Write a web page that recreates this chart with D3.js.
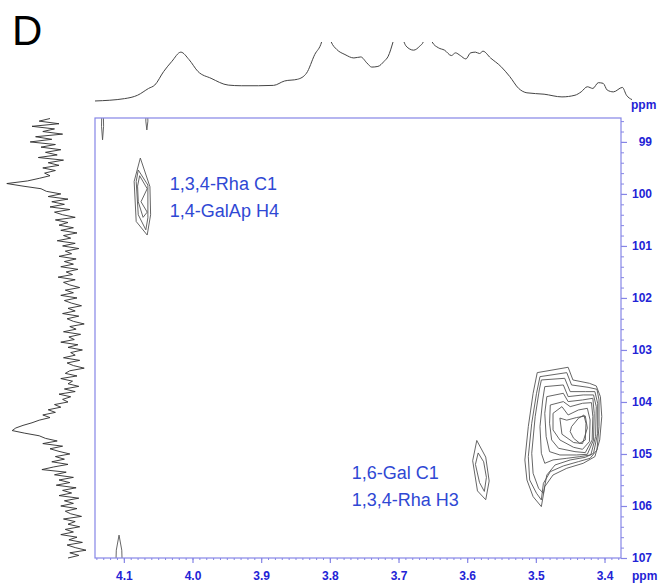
<!DOCTYPE html>
<html>
<head>
<meta charset="utf-8">
<script src="https://cdn.jsdelivr.net/npm/d3@7"></script>
<style>
  body { margin: 0; background: #fff; }
  svg { display: block; font-family: "Liberation Sans", Arial, sans-serif; }
</style>
</head>
<body>
<script>
const width = 666;
const height = 584;

// axis ticks (ppm)
const xTicks = [4.1, 4.0, 3.9, 3.8, 3.7, 3.6, 3.5, 3.4];
const yTicks = [99, 100, 101, 102, 103, 104, 105, 106, 107];

// peak labels
const labels = [
  { h: 4.033, c: 99.93, lines: ["1,3,4-Rha C1", "1,4-GalAp H4"] },
  { h: 3.768, c: 105.48, lines: ["1,6-Gal C1", "1,3,4-Rha H3"] }
];

// contour rings [1H ppm, 13C ppm]
const rhaC1Rings = [
  [[4.076,99.31],[4.062,99.86],[4.061,100.40],[4.066,100.79],[4.082,100.53],[4.085,99.76]],
  [[4.079,99.54],[4.065,99.83],[4.065,100.46],[4.068,100.69],[4.079,100.40],[4.082,99.76]],
  [[4.077,99.65],[4.066,99.90],[4.075,100.15],[4.066,100.35],[4.072,100.45],[4.079,100.15],[4.080,99.85]]
];

const galC1Rings = [
  [[3.586,104.74],[3.592,105.13],[3.585,105.71],[3.573,105.88],[3.568,105.52],[3.573,105.06]],
  [[3.584,104.98],[3.588,105.20],[3.582,105.55],[3.575,105.72],[3.572,105.45],[3.576,105.15]]
];

const bigRings = [
  [[3.498,103.436],[3.453,103.333],[3.446,103.577],[3.422,103.641],[3.412,103.692],[3.406,103.897],[3.404,104.282],[3.407,104.730],[3.414,105.051],[3.431,105.179],[3.455,105.275],[3.475,105.404],[3.487,105.628],[3.492,106.012],[3.504,105.820],[3.513,105.500],[3.516,105.115],[3.511,104.474],[3.504,103.833]],
  [[3.494,103.513],[3.455,103.436],[3.448,103.673],[3.424,103.718],[3.411,103.756],[3.408,103.961],[3.408,104.474],[3.411,104.923],[3.421,105.083],[3.438,105.147],[3.460,105.230],[3.479,105.340],[3.489,105.564],[3.492,105.884],[3.499,105.756],[3.509,105.500],[3.511,105.051],[3.506,104.410],[3.499,103.833]],
  [[3.492,103.577],[3.458,103.545],[3.450,103.801],[3.428,103.801],[3.414,103.801],[3.410,104.025],[3.410,104.602],[3.416,104.987],[3.428,105.064],[3.450,105.115],[3.472,105.211],[3.484,105.404],[3.489,105.756],[3.496,105.660],[3.504,105.372],[3.506,104.987],[3.501,104.282],[3.495,103.769]],
  [[3.487,103.705],[3.460,103.673],[3.453,103.897],[3.431,103.865],[3.416,103.865],[3.412,104.090],[3.413,104.666],[3.420,105.019],[3.436,105.051],[3.455,105.083],[3.475,105.115],[3.487,105.179],[3.492,104.987],[3.494,104.474],[3.490,103.961]],
  [[3.484,103.897],[3.460,103.833],[3.453,103.993],[3.432,103.961],[3.417,103.929],[3.415,104.218],[3.416,104.730],[3.425,105.006],[3.441,105.019],[3.465,105.019],[3.480,104.955],[3.485,104.666],[3.487,104.218]],
  [[3.479,104.058],[3.460,103.993],[3.450,104.090],[3.432,104.025],[3.419,104.013],[3.417,104.282],[3.418,104.730],[3.428,104.974],[3.443,104.955],[3.467,104.891],[3.477,104.730],[3.480,104.410]],
  [[3.475,104.218],[3.462,104.090],[3.453,104.250],[3.438,104.154],[3.425,104.122],[3.421,104.346],[3.422,104.763],[3.432,104.910],[3.445,104.872],[3.465,104.730],[3.475,104.538]],
  [[3.465,104.31],[3.455,104.35],[3.441,104.30],[3.428,104.27],[3.425,104.50],[3.432,104.80],[3.445,104.78],[3.462,104.62]],
  [[3.448,104.474],[3.438,104.314],[3.430,104.250],[3.427,104.410],[3.428,104.730],[3.436,104.795],[3.445,104.698],[3.450,104.570]]
];

// small peaks cut by the frame
const edgeRings = [
  [[4.132,98.3],[4.1325,98.7],[4.131,98.96],[4.1295,98.7],[4.130,98.3]],
  [[4.0675,98.3],[4.068,98.6],[4.0665,98.77],[4.065,98.6],[4.0655,98.3]],
  [[4.112,107.3],[4.111,106.85],[4.107,106.56],[4.103,106.85],[4.102,107.3]]
];

// 1H projection [ppm, intensity]
const topProj = [[4.142,1.7],[4.099,5.6],[4.080,11.3],[4.064,22.6],[4.055,28.2],[4.042,50.8],[4.030,67.8],[4.017,83.1],[4.005,70.6],[3.992,50.8],[3.973,39.5],[3.948,28.2],[3.929,27.1],[3.904,27.1],[3.882,27.7],[3.866,35.0],[3.847,37.9],[3.834,48.0],[3.822,79.1],[3.812,100],[3.806,130],[3.798,100],[3.790,87.6],[3.778,79.1],[3.765,73.4],[3.755,75.1],[3.746,65.0],[3.739,58.2],[3.730,59.3],[3.721,67.8],[3.715,76.3],[3.708,100],[3.701,130],[3.692,100],[3.689,93.2],[3.678,86.4],[3.669,93.2],[3.664,100],[3.658,125],[3.651,100],[3.642,90.4],[3.633,86.4],[3.623,77.4],[3.617,81.9],[3.610,77.4],[3.602,71.8],[3.595,81.9],[3.588,83.1],[3.582,80.8],[3.577,84.7],[3.566,73.4],[3.551,59.3],[3.538,42.4],[3.525,22.6],[3.513,15.3],[3.488,13.0],[3.462,8.5],[3.443,11.3],[3.434,16.9],[3.425,25.4],[3.417,22.6],[3.409,32.2],[3.402,31.1],[3.396,19.8],[3.387,16.9],[3.374,24.3],[3.368,11.3],[3.360,4.0]];

// 13C projection [ppm, intensity]
const leftProj = [
  [98.55,50],[98.60,62],[98.65,40],[98.70,70],[98.75,45],[98.80,58],[98.85,36],[98.90,66],[98.95,48],[99.00,72],
  [99.05,44],[99.10,60],[99.15,38],[99.20,55],[99.25,42],[99.30,63],[99.35,35],[99.40,52],[99.45,40],[99.50,58],
  [99.55,44],[99.60,56],[99.65,50],[99.70,62],[99.75,75],[99.80,98],[99.85,80],[99.90,60],[99.95,54],[100.00,38],
  [100.05,52],[100.10,30],[100.15,48],[100.20,34],[100.25,50],[100.30,28],[100.35,45],[100.40,36],[100.45,22],[100.50,44],
  [100.55,30],[100.60,40],[100.65,24],[100.70,38],[100.75,20],[100.80,35],[100.85,27],[100.90,42],[100.95,22],[101.00,36],
  [101.05,18],[101.10,33],[101.15,26],[101.20,40],[101.25,21],[101.30,34],[101.35,24],[101.40,38],[101.45,19],[101.50,32],
  [101.55,25],[101.60,41],[101.65,22],[101.70,35],[101.75,28],[101.80,17],[101.85,33],[101.90,24],[101.95,38],[102.00,20],
  [102.05,34],[102.10,26],[102.15,15],[102.20,30],[102.25,22],[102.30,36],[102.35,18],[102.40,31],[102.45,24],[102.50,12],
  [102.55,28],[102.60,21],[102.65,35],[102.70,16],[102.75,29],[102.80,23],[102.85,38],[102.90,19],[102.95,30],[103.00,14],
  [103.05,27],[103.10,22],[103.15,35],[103.20,17],[103.25,31],[103.30,24],[103.35,12],[103.40,28],[103.45,33],[103.50,20],
  [103.55,38],[103.60,25],[103.65,30],[103.70,18],[103.75,34],[103.80,22],[103.85,40],[103.90,27],[103.95,36],[104.00,30],
  [104.05,45],[104.10,38],[104.15,52],[104.20,44],[104.25,58],[104.30,50],[104.35,62],[104.40,70],[104.45,80],[104.50,88],
  [104.55,92],[104.60,78],[104.65,62],[104.70,55],[104.75,42],[104.80,58],[104.85,36],[104.90,50],[104.95,40],[105.00,28],
  [105.05,44],[105.10,34],[105.15,48],[105.20,30],[105.25,46],[105.30,59],[105.35,32],[105.40,45],[105.45,24],[105.50,40],
  [105.55,28],[105.60,43],[105.65,21],[105.70,36],[105.75,26],[105.80,40],[105.85,18],[105.90,34],[105.95,24],[106.00,38],
  [106.05,20],[106.10,33],[106.15,27],[106.20,15],[106.25,35],[106.30,22],[106.35,30],[106.40,17],[106.45,33],[106.50,24],
  [106.55,38],[106.60,20],[106.65,29],[106.70,14],[106.75,31],[106.80,22],[106.85,10],[106.90,28],[106.95,18],[107.00,30]
];

const axisBlue = "#8585e6";
const textBlue = "#2323d6";
const noteBlue = "#2f48d4";

const svg = d3.select("body").append("svg")
  .attr("width", width)
  .attr("height", height);

// plot frame
const box = { left: 95, top: 118, right: 621, bottom: 558 };

const x = d3.scaleLinear().domain([4.142, 3.376]).range([box.left, box.right]);
const y = d3.scaleLinear().domain([98.54, 107]).range([box.top, box.bottom]);
const xLeft = d3.scaleLinear().domain([0, 100]).range([95, 5]);
const yTop = d3.scaleLinear().domain([0, 100]).range([102, 42]);

const defs = svg.append("defs");
defs.append("clipPath").attr("id", "plotClip")
  .append("rect")
  .attr("x", box.left).attr("y", box.top)
  .attr("width", box.right - box.left).attr("height", box.bottom - box.top);
defs.append("clipPath").attr("id", "topClip")
  .append("rect")
  .attr("x", 0).attr("y", 42).attr("width", width).attr("height", 70);

// panel letter
svg.append("text")
  .attr("x", 12)
  .attr("y", 45)
  .style("font-size", "42px")
  .attr("fill", "#000")
  .text("D");

// top projection
svg.append("path")
  .datum(topProj)
  .attr("clip-path", "url(#topClip)")
  .attr("fill", "none")
  .attr("stroke", "#444")
  .attr("stroke-width", 1)
  .attr("d", d3.line().x(d => x(d[0])).y(d => yTop(d[1])).curve(d3.curveMonotoneX));

// left projection
svg.append("path")
  .datum(leftProj)
  .attr("fill", "none")
  .attr("stroke", "#2a2a2a")
  .attr("stroke-width", 0.9)
  .attr("d", d3.line().x(d => xLeft(d[1])).y(d => y(d[0])));

// contours
const ring = d3.line().x(d => x(d[0])).y(d => y(d[1])).curve(d3.curveLinearClosed);
const cg = svg.append("g").attr("clip-path", "url(#plotClip)");
cg.selectAll("path")
  .data([...rhaC1Rings, ...galC1Rings, ...bigRings, ...edgeRings])
  .join("path")
  .attr("fill", "none")
  .attr("stroke", "#555")
  .attr("stroke-width", 0.9)
  .attr("d", ring);

// frame
svg.append("rect")
  .attr("x", box.left).attr("y", box.top)
  .attr("width", box.right - box.left).attr("height", box.bottom - box.top)
  .attr("fill", "none")
  .attr("stroke", axisBlue)
  .attr("stroke-width", 1.2);

// bottom axis: minor then major
const xMinor = d3.range(4.14, 3.375, -0.01);
svg.append("g")
  .attr("transform", `translate(0,${box.bottom})`)
  .call(d3.axisBottom(x).tickValues(xMinor).tickSize(2).tickSizeOuter(0).tickFormat(""))
  .call(g => g.select(".domain").remove())
  .call(g => g.selectAll("line").attr("stroke", axisBlue));

const xAxis = svg.append("g")
  .attr("transform", `translate(0,${box.bottom})`)
  .call(d3.axisBottom(x).tickValues(xTicks).tickSize(5).tickSizeOuter(0).tickFormat(d3.format(".1f")))
  .call(g => g.select(".domain").remove());
xAxis.selectAll("line").attr("stroke", axisBlue).attr("stroke-width", 1.2);
xAxis.selectAll("text")
  .attr("y", 13)
  .attr("fill", textBlue)
  .style("font-size", "12px")
  .style("font-weight", "bold")
  .style("font-family", "Liberation Sans, Arial, sans-serif");

// right axis
const yMinor = d3.range(98.6, 107.01, 0.2);
svg.append("g")
  .attr("transform", `translate(${box.right},0)`)
  .call(d3.axisRight(y).tickValues(yMinor).tickSize(3).tickSizeOuter(0).tickFormat(""))
  .call(g => g.select(".domain").remove())
  .call(g => g.selectAll("line").attr("stroke", axisBlue));

const yAxis = svg.append("g")
  .attr("transform", `translate(${box.right},0)`)
  .call(d3.axisRight(y).tickValues(yTicks).tickSize(6).tickSizeOuter(0).tickFormat(d3.format("d")))
  .call(g => g.select(".domain").remove());
yAxis.selectAll("line").attr("stroke", axisBlue).attr("stroke-width", 1.2);
yAxis.selectAll("text")
  .attr("x", 31)
  .attr("text-anchor", "end")
  .attr("fill", textBlue)
  .style("font-size", "12px")
  .style("font-weight", "bold")
  .style("font-family", "Liberation Sans, Arial, sans-serif");

// ppm units
[[631, 109], [632, 580]].forEach(p => {
  svg.append("text")
    .attr("x", p[0]).attr("y", p[1])
    .attr("fill", textBlue)
    .style("font-size", "12px")
    .style("font-weight", "bold")
    .text("ppm");
});

// peak labels
labels.forEach(l => {
  const t = svg.append("text")
    .attr("x", x(l.h))
    .attr("y", y(l.c))
    .attr("fill", noteBlue)
    .style("font-size", "18px");
  l.lines.forEach((s, i) => {
    t.append("tspan")
      .attr("x", x(l.h))
      .attr("dy", i === 0 ? 0 : 27)
      .text(s);
  });
});
</script>
</body>
</html>
